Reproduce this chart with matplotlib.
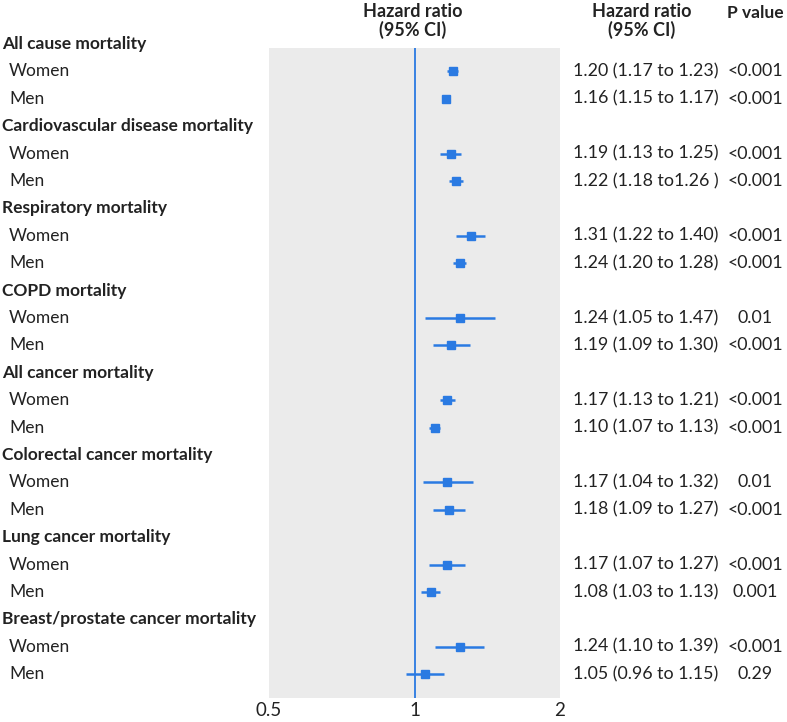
import numpy as np
import matplotlib
matplotlib.use("Agg")
import matplotlib.pyplot as plt

plt.rcParams['font.family'] = ['Lato', 'DejaVu Sans']

# outcomes and estimates (women, men)
outcomes = ["All cause mortality", "Cardiovascular disease mortality", "Respiratory mortality",
            "COPD mortality", "All cancer mortality", "Colorectal cancer mortality",
            "Lung cancer mortality", "Breast/prostate cancer mortality"]
groups = ["Women", "Men"]
hr = [1.20, 1.16, 1.19, 1.22, 1.31, 1.24, 1.24, 1.19,
      1.17, 1.10, 1.17, 1.18, 1.17, 1.08, 1.24, 1.05]
lo = [1.17, 1.15, 1.13, 1.18, 1.22, 1.20, 1.05, 1.09,
      1.13, 1.07, 1.04, 1.09, 1.07, 1.03, 1.10, 0.96]
hi = [1.23, 1.17, 1.25, 1.26, 1.40, 1.28, 1.47, 1.30,
      1.21, 1.13, 1.32, 1.27, 1.27, 1.13, 1.39, 1.15]
hr_text = ["1.20 (1.17 to 1.23)", "1.16 (1.15 to 1.17)", "1.19 (1.13 to 1.25)", "1.22 (1.18 to1.26 )",
           "1.31 (1.22 to 1.40)", "1.24 (1.20 to 1.28)", "1.24 (1.05 to 1.47)", "1.19 (1.09 to 1.30)",
           "1.17 (1.13 to 1.21)", "1.10 (1.07 to 1.13)", "1.17 (1.04 to 1.32)", "1.18 (1.09 to 1.27)",
           "1.17 (1.07 to 1.27)", "1.08 (1.03 to 1.13)", "1.24 (1.10 to 1.39)", "1.05 (0.96 to 1.15)"]
p_text = ["<0.001", "<0.001", "<0.001", "<0.001", "<0.001", "<0.001", "0.01", "<0.001",
          "<0.001", "<0.001", "0.01", "<0.001", "<0.001", "0.001", "<0.001", "0.29"]

blue = "#2a7ae2"
W, H = 787, 722
fig = plt.figure(figsize=(W / 100, H / 100), dpi=100)

# panel from x=269..560 px, y=48..698 px
ax = fig.add_axes([269 / W, 1 - 698 / H, (560 - 269) / W, (698 - 48) / H])
ax.set_facecolor("#ebebeb")
ax.set_xscale("log")
ax.set_xlim(0.5, 2)
ax.set_ylim(23.87, 0.146)
for s in ax.spines.values():
    s.set_visible(False)
ax.set_yticks([])
ax.set_xticks([0.5, 1, 2])
ax.set_xticklabels(["0.5", "1", "2"])
ax.minorticks_off()
ax.tick_params(axis="x", length=0, pad=3, labelsize=13.5, labelcolor="#222222")
ax.axvline(1, color=blue, lw=1.3, zorder=2)

ys = []
for i in range(len(outcomes)):
    ys += [3 * i + 1, 3 * i + 2]
ys = np.array(ys)

ax.hlines(ys, lo, hi, color=blue, lw=1.8, zorder=3)
ax.plot(hr, ys, "s", color=blue, ms=5.5, zorder=4)

def fx(px):
    return px / W

trans = matplotlib.transforms.blended_transform_factory(fig.transFigure, ax.transData)
for i, name in enumerate(outcomes):
    ax.text(fx(2), 3 * i, name, transform=trans, ha="left", va="center",
            fontsize=12.5, fontweight="bold", color="#222222", clip_on=False)
    for j, g in enumerate(groups):
        ax.text(fx(9), 3 * i + 1 + j, g, transform=trans, ha="left", va="center",
                fontsize=12.5, color="#222222", clip_on=False)

for k, y in enumerate(ys):
    ax.text(fx(573), y, hr_text[k], transform=trans, ha="left", va="center",
            fontsize=12.8, color="#222222", clip_on=False)
    ax.text(fx(755), y, p_text[k], transform=trans, ha="center", va="center",
            fontsize=12.8, color="#222222", clip_on=False)

fig.text(fx(413), 1 - 21 / H, "Hazard ratio\n(95% CI)", ha="center", va="center",
         fontsize=13, fontweight="bold", color="#222222", linespacing=1.05)
fig.text(fx(642), 1 - 21 / H, "Hazard ratio\n(95% CI)", ha="center", va="center",
         fontsize=13, fontweight="bold", color="#222222", linespacing=1.05)
fig.text(fx(784), 1 - 13 / H, "P value", ha="right", va="center",
         fontsize=12.5, fontweight="bold", color="#222222")

fig.savefig("out.png", dpi=100, facecolor="white")
